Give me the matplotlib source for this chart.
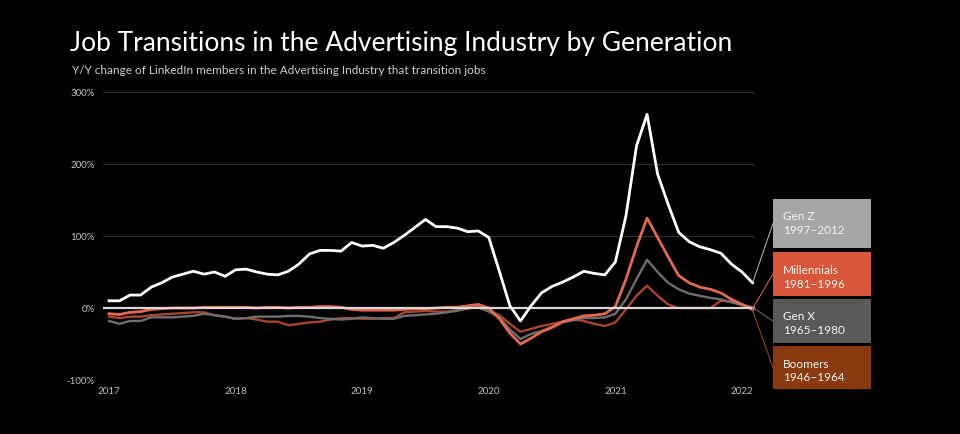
import matplotlib
matplotlib.use("Agg")
import matplotlib.pyplot as plt
from matplotlib.patches import Rectangle
from matplotlib.lines import Line2D
import numpy as np

plt.rcParams['font.family'] = ['Lato', 'DejaVu Sans']

# ---- data (monthly, Jan 2017 .. Feb 2022), Y/Y change in % ----
start_year = 2017
gen_z = [10, 10, 18, 18, 29, 35, 43, 47, 51, 47, 50, 44,
         53, 54, 50, 47, 46, 51, 61, 75, 80, 80, 79, 91,
         86, 87, 83, 91, 101, 112, 123, 113, 113, 111, 106, 107,
         98, 51, 3, -18, 3, 21, 30, 36, 43, 51, 48, 46,
         64, 128, 225, 269, 186, 144, 105, 92, 85, 81, 76, 61,
         50, 35]
millennials = [-8, -9, -6, -5, -2, -1, 0, 0, 0, 1, 1, 1,
               1, 1, 0, 1, 1, 0, 1, 1, 2, 2, 1, -2,
               -3, -3, -3, -3, -2, -1, -1, 0, 1, 1, 3, 5,
               0, -15, -35, -50, -42, -33, -27, -19, -15, -11, -10, -8,
               2, 40, 85, 125, 98, 71, 45, 35, 29, 26, 21, 12,
               5, -1]
gen_x = [-18, -22, -18, -18, -13, -13, -13, -12, -11, -8, -10, -12,
         -15, -14, -12, -12, -12, -11, -11, -12, -14, -15, -16, -15,
         -13, -14, -15, -15, -11, -10, -9, -8, -6, -4, 0, 1,
         -5, -13, -30, -43, -36, -32, -26, -20, -17, -14, -14, -13,
         -8, 12, 40, 67, 50, 35, 26, 20, 17, 14, 12, 8,
         4, 1]
boomers = [-12, -14, -12, -12, -10, -9, -8, -7, -6, -6, -10, -12,
           -15, -14, -16, -19, -19, -24, -22, -20, -19, -16, -14, -14,
           -15, -15, -14, -14, -6, -5, -4, -5, -5, -3, -1, 3,
           -4, -10, -22, -33, -29, -25, -22, -19, -16, -18, -22, -25,
           -20, -2, 17, 31, 17, 5, 0, 0, 0, 0, 10, 9,
           5, -3]

series_names = ["Gen Z", "Millennials", "Gen X", "Boomers"]
series_years = ["1997\u20132012", "1981\u20131996", "1965\u20131980", "1946\u20131964"]
y_ticks = [-100, 0, 100, 200, 300]
y_tick_labels = ["-100%", "0%", "100%", "200%", "300%"]
x_ticks = [2017, 2018, 2019, 2020, 2021, 2022]
x_tick_labels = ["2017", "2018", "2019", "2020", "2021", "2022"]

t = start_year + np.arange(len(gen_z)) / 12.0

W, H = 960, 435
fig = plt.figure(figsize=(W / 100, H / 100), dpi=100, facecolor="black")

def fx(px):
    return px / W

def fy(py):
    return 1 - py / H

ax = fig.add_axes([fx(103), fy(381), fx(755) - fx(103), fy(93) - fy(381)])
ax.set_facecolor("black")
ax.set_xlim(2017 - 6 / 126.6, 2017 + 652 / 126.6 - 6 / 126.6)
ax.set_ylim(-100, 300)

for s in ax.spines.values():
    s.set_visible(False)

for yv in [-100, 100, 200, 300]:
    ax.axhline(yv, color="#2e2e2e", lw=0.8, zorder=1)

line_colors = {"Gen Z": "#ffffff", "Millennials": "#e36a4e",
               "Gen X": "#6e6e6e", "Boomers": "#a9442c"}
box_colors = {"Gen Z": "#a6a6a6", "Millennials": "#d8563a",
              "Gen X": "#595959", "Boomers": "#8a3a10"}

data = {"Gen Z": gen_z, "Millennials": millennials, "Gen X": gen_x, "Boomers": boomers}

ax.plot(t, boomers, color=line_colors["Boomers"], lw=1.7, zorder=2, clip_on=False)
ax.plot(t, gen_x, color=line_colors["Gen X"], lw=1.7, zorder=3, clip_on=False)
ax.plot(t, millennials, color=line_colors["Millennials"], lw=2.0, zorder=4, clip_on=False)
ax.axhline(0, color="#d9d9d9", lw=1.6, zorder=5)
ax.plot(t, gen_z, color=line_colors["Gen Z"], lw=2.0, zorder=6, clip_on=False)

ax.set_yticks(y_ticks)
ax.set_yticklabels(y_tick_labels)
ax.set_xticks(x_ticks)
ax.set_xticklabels(x_tick_labels)
ax.tick_params(axis="both", length=0, colors="#bfbfbf", labelsize=7)
ax.tick_params(axis="y", pad=6)
ax.tick_params(axis="x", pad=4)

# title & subtitle
fig.text(fx(70), fy(44), "Job Transitions in the Advertising Industry by Generation",
         color="white", fontsize=19, va="center", ha="left")
fig.text(fx(72), fy(70), "Y/Y change of LinkedIn members in the Advertising Industry that transition jobs",
         color="#cfcfcf", fontsize=8.5, va="center", ha="left")

# legend boxes
boxes = [(200, 249), (253, 297), (300, 344), (347, 390)]
bx0, bx1 = 773, 871
fig.canvas.draw()
for name, yrs, (y0, y1) in zip(series_names, series_years, boxes):
    fig.add_artist(Rectangle((fx(bx0), fy(y1)), fx(bx1) - fx(bx0), fy(y0) - fy(y1),
                             transform=fig.transFigure, facecolor=box_colors[name],
                             edgecolor="none"))
    fig.text(fx(bx0 + 10), fy(y0 + 17), name, color="#f4f4f4", fontsize=8.5,
             va="center", ha="left")
    fig.text(fx(bx0 + 10), fy(y0 + 31), yrs, color="#f4f4f4", fontsize=8.5,
             va="center", ha="left")
    # connector from series end to box
    vals = data[name]
    dx, dy = ax.transData.transform((t[-1], vals[-1]))
    ex, ey = fig.transFigure.inverted().transform((dx, dy))
    ymid = (y0 + y1) / 2
    fig.add_artist(Line2D([ex, fx(bx0)], [ey, fy(ymid)], transform=fig.transFigure,
                          color=line_colors[name] if name != "Gen Z" else "#bfbfbf",
                          lw=0.7))

fig.savefig("out.png", dpi=100, facecolor="black")
